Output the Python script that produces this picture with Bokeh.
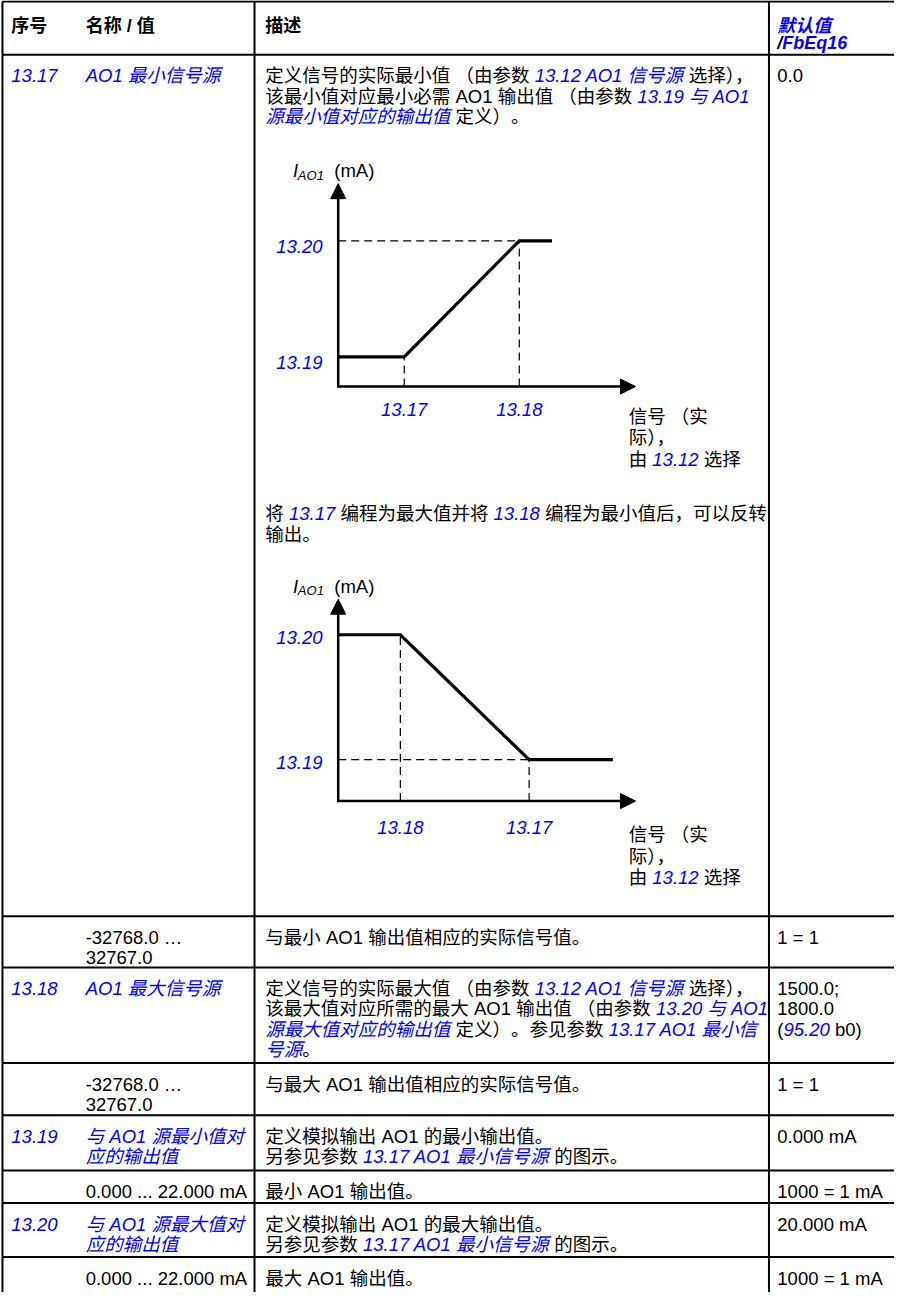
import re
from bokeh.plotting import figure
from bokeh.models import ColumnDataSource, Range1d, Arrow, NormalHead
from bokeh.core.properties import value
from bokeh.embed import file_html
from bokeh.resources import INLINE

# ------------------------------------------------------------------ data
header_cols = ["序号", "名称 / 值", "描述"]
header_default_1 = "默认值"
header_default_2 = "FbEq16"

param_ids = ["13.17", "", "13.18", "", "13.19", "", "13.20", ""]

param_names = [
    [[("AO1 最小信号源", "l")]],
    [[("-32768.0 …", "n")], [("32767.0", "n")]],
    [[("AO1 最大信号源", "l")]],
    [[("-32768.0 …", "n")], [("32767.0", "n")]],
    [[("与 AO1 源最小值对", "l")], [("应的输出值", "l")]],
    [[("0.000 ... 22.000 mA", "n")]],
    [[("与 AO1 源最大值对", "l")], [("应的输出值", "l")]],
    [[("0.000 ... 22.000 mA", "n")]],
]

param_descs = [
    [[("定义信号的实际最小值 （由参数 ", "n"), ("13.12 AO1 信号源", "l"), (" 选择），", "n")],
     [("该最小值对应最小必需 AO1 输出值 （由参数 ", "n"), ("13.19 与 AO1", "l")],
     [("源最小值对应的输出值", "l"), (" 定义）。", "n")]],
    [[("与最小 AO1 输出值相应的实际信号值。", "n")]],
    [[("定义信号的实际最大值 （由参数 ", "n"), ("13.12 AO1 信号源", "l"), (" 选择），", "n")],
     [("该最大值对应所需的最大 AO1 输出值 （由参数 ", "n"), ("13.20 与 AO1", "l")],
     [("源最大值对应的输出值", "l"), (" 定义）。参见参数 ", "n"), ("13.17 AO1 最小信", "l")],
     [("号源", "l"), ("。", "n")]],
    [[("与最大 AO1 输出值相应的实际信号值。", "n")]],
    [[("定义模拟输出 AO1 的最小输出值。", "n")],
     [("另参见参数 ", "n"), ("13.17 AO1 最小信号源", "l"), (" 的图示。", "n")]],
    [[("最小 AO1 输出值。", "n")]],
    [[("定义模拟输出 AO1 的最大输出值。", "n")],
     [("另参见参数 ", "n"), ("13.17 AO1 最小信号源", "l"), (" 的图示。", "n")]],
    [[("最大 AO1 输出值。", "n")]],
]

param_defaults = [
    [[("0.0", "n")]],
    [[("1 = 1", "n")]],
    [[("1500.0;", "n")], [("1800.0", "n")], [("(", "n"), ("95.20", "l"), (" b0)", "n")]],
    [[("1 = 1", "n")]],
    [[("0.000 mA", "n")]],
    [[("1000 = 1 mA", "n")]],
    [[("20.000 mA", "n")]],
    [[("1000 = 1 mA", "n")]],
]

middle_paragraph = [
    [("将 ", "n"), ("13.17", "l"), (" 编程为最大值并将 ", "n"), ("13.18", "l"),
     (" 编程为最小值后，可以反转", "n")],
    [("输出。", "n")],
]

axis_unit_main = "I"
axis_unit_sub = "AO1"
axis_unit_tail = "(mA)"
x_axis_note = [[("信号 （实", "n")], [("际），", "n")], [("由 ", "n"), ("13.12", "l"), (" 选择", "n")]]

# diagram 1 (normal): schematic values, percent of axis length
d1_curve_x = [0, 22.2, 60.9, 71.9]
d1_curve_y = [14.6, 14.6, 71.8, 71.8]
d1_xtick_labels = ["13.17", "13.18"]
d1_ytick_labels = ["13.19", "13.20"]
d1_ytick_pos = [14.6, 71.8]

# diagram 2 (inverted)
d2_curve_x = [0, 20.9, 64.2, 92.4]
d2_curve_y = [82.4, 82.4, 20.5, 20.5]
d2_xtick_labels = ["13.18", "13.17"]
d2_ytick_labels = ["13.19", "13.20"]
d2_ytick_pos = [20.5, 82.4]

# ------------------------------------------------------------------ layout
W, H = 894, 1292
X0, X1 = 1, 909
Y0, Y1 = 2, 1314
SX = W / (X1 - X0)

FONT = "Liberation Sans, Noto Sans CJK SC"
BLUE = "#0000ff"
ROW_TOPS = [57, 932, 984, 1081, 1134, 1190, 1223, 1278]
TABLE_TOP = 3
COL_LINES = [3, 259, 781.5]
TX_ID, TX_NAME, TX_DESC, TX_DEF = 12, 87.5, 270, 790
FIRST_BASE = 21.5
LH = 20.5

STYLES = {
    "n": ("#000000", "normal", 18.5),
    "l": (BLUE, "italic", 18.5),
    "ni": ("#000000", "italic", 18.5),
    "hb": ("#000000", "bold", 18),
    "hbi": ("#000000", "bold italic", 18),
    "hbl": (BLUE, "bold italic", 18),
    "sub": ("#000000", "italic", 13),
}

AR = {' ': 278, '-': 333, '.': 278, '…': 1000, '=': 584, '(': 333, ')': 333, ';': 278,
      '/': 278, 'A': 667, 'O': 778, 'm': 833, 'b': 556, 'F': 611, 'E': 667, 'q': 556, 'I': 278}
ARB = dict(AR, b=611, q=611)


def text_px(s, style):
    size = STYLES[style][2]
    table = ARB if "bold" in STYLES[style][1] else AR
    w = 0.0
    for c in s:
        if ord(c) >= 0x2E80:
            w += size
        elif c.isdigit():
            w += 556 * size / 1000
        else:
            w += table.get(c, 556) * size / 1000
    return w


buckets = {}


def add_text(x, y, s, style, align="left"):
    lead = len(s) - len(s.lstrip(" "))
    if lead and align == "left":
        x += text_px(" " * lead, style) / SX
    s = s.strip(" ")
    if not s:
        return
    b = buckets.setdefault((style, align), dict(x=[], y=[], text=[]))
    b["x"].append(x)
    b["y"].append(y)
    b["text"].append(s)


def emit(x, y, segs):
    for s, st in segs:
        # the full stop is placed on its own so that punctuation trimming cannot shift text
        for piece in re.split(r"(。)", s):
            if piece:
                add_text(x, y, piece, st)
                x += text_px(piece, st) / SX


p = figure(width=W, height=H, x_range=Range1d(X0, X1), y_range=Range1d(Y1, Y0),
           output_backend="svg", toolbar_location=None,
           x_axis_location=None, y_axis_location=None, min_border=0)
p.grid.visible = False
p.outline_line_color = None
p.background_fill_color = "white"
p.border_fill_color = "white"

# table lines
hy = [TABLE_TOP] + ROW_TOPS
p.segment(x0=[COL_LINES[0]] * len(hy), y0=hy, x1=[X1] * len(hy), y1=hy,
          line_color="black", line_width=2)
p.segment(x0=COL_LINES, y0=[TABLE_TOP] * 3, x1=COL_LINES, y1=[Y1] * 3,
          line_color="black", line_width=2)

# header
hb = TABLE_TOP + 24.5
for x, t in zip([TX_ID, TX_NAME, TX_DESC], header_cols):
    emit(x, hb, [(t, "hb")])
emit(TX_DEF, hb, [(header_default_1, "hbl")])
emit(TX_DEF, hb + 18, [("/", "hbi"), (header_default_2, "hbl")])

# rows
for i, top in enumerate(ROW_TOPS):
    base = top + FIRST_BASE
    if param_ids[i]:
        emit(TX_ID, base, [(param_ids[i], "l")])
    for k, line in enumerate(param_names[i]):
        emit(TX_NAME, base + k * LH, line)
    for k, line in enumerate(param_descs[i]):
        emit(TX_DESC, base + k * LH, line)
    for k, line in enumerate(param_defaults[i]):
        emit(TX_DEF, base + k * LH, line)

for k, line in enumerate(middle_paragraph):
    emit(TX_DESC, 523 + k * 21.5, line)

# diagrams
diagrams = [
    dict(cx=d1_curve_x, cy=d1_curve_y, xl=d1_xtick_labels, yl=d1_ytick_labels, yp=d1_ytick_pos,
         ox=344, oy=394, lx=302, ly=206, xt=23, yt=6, note=30),
    dict(cx=d2_curve_x, cy=d2_curve_y, xl=d2_xtick_labels, yl=d2_ytick_labels, yp=d2_ytick_pos,
         ox=344, oy=815, lx=302, ly=205, xt=27, yt=3, note=34),
]
for d in diagrams:
    ox, oy, lx, ly = d["ox"], d["oy"], d["lx"], d["ly"]
    px = [ox + v / 100 * lx for v in d["cx"]]
    py = [oy - v / 100 * ly for v in d["cy"]]
    # dashed guides at the break points
    bx = px[1:3]
    by = py[1:3]
    p.segment(x0=bx, y0=[oy] * 2, x1=bx, y1=by, line_color="black", line_width=1.2, line_dash="8 5")
    p.segment(x0=[ox] * 2, y0=by, x1=bx, y1=by, line_color="black", line_width=1.2, line_dash="8 5")
    # axes
    for xs, ys, xe, ye in [(ox - 1, oy, ox + lx, oy), (ox, oy + 1, ox, oy - ly)]:
        p.add_layout(Arrow(x_start=xs, y_start=ys, x_end=xe, y_end=ye, start=None,
                           end=NormalHead(size=15, fill_color="black", line_color="black", line_width=1),
                           line_color="black", line_width=2.5))
    # curve
    p.line(px, py, line_color="black", line_width=3.2, line_join="miter")
    # tick labels
    for lab, x in zip(d["xl"], bx):
        add_text(x, oy + d["xt"], lab, "l", "center")
    for lab, v in zip(d["yl"], d["yp"]):
        add_text(ox - 16, oy - v / 100 * ly + d["yt"], lab, "l", "right")
    # axis unit
    tip = oy - ly
    add_text(ox - 46, tip - 13, axis_unit_main, "ni")
    add_text(ox - 41, tip - 8.5, axis_unit_sub, "sub")
    add_text(ox - 4, tip - 13, axis_unit_tail, "n")
    # x axis note
    for k, line in enumerate(x_axis_note):
        emit(ox + 295, oy + d["note"] + k * 22, line)

# render texts
for (style, align), b in buckets.items():
    color, fstyle, size = STYLES[style]
    p.text(x="x", y="y", text="text", source=ColumnDataSource(b),
           text_font=value(FONT), text_font_size=value(f"{size}px"),
           text_font_style=fstyle, text_color=color,
           text_align=align, text_baseline="alphabetic")

open("out.html", "w").write(file_html(p, INLINE))
